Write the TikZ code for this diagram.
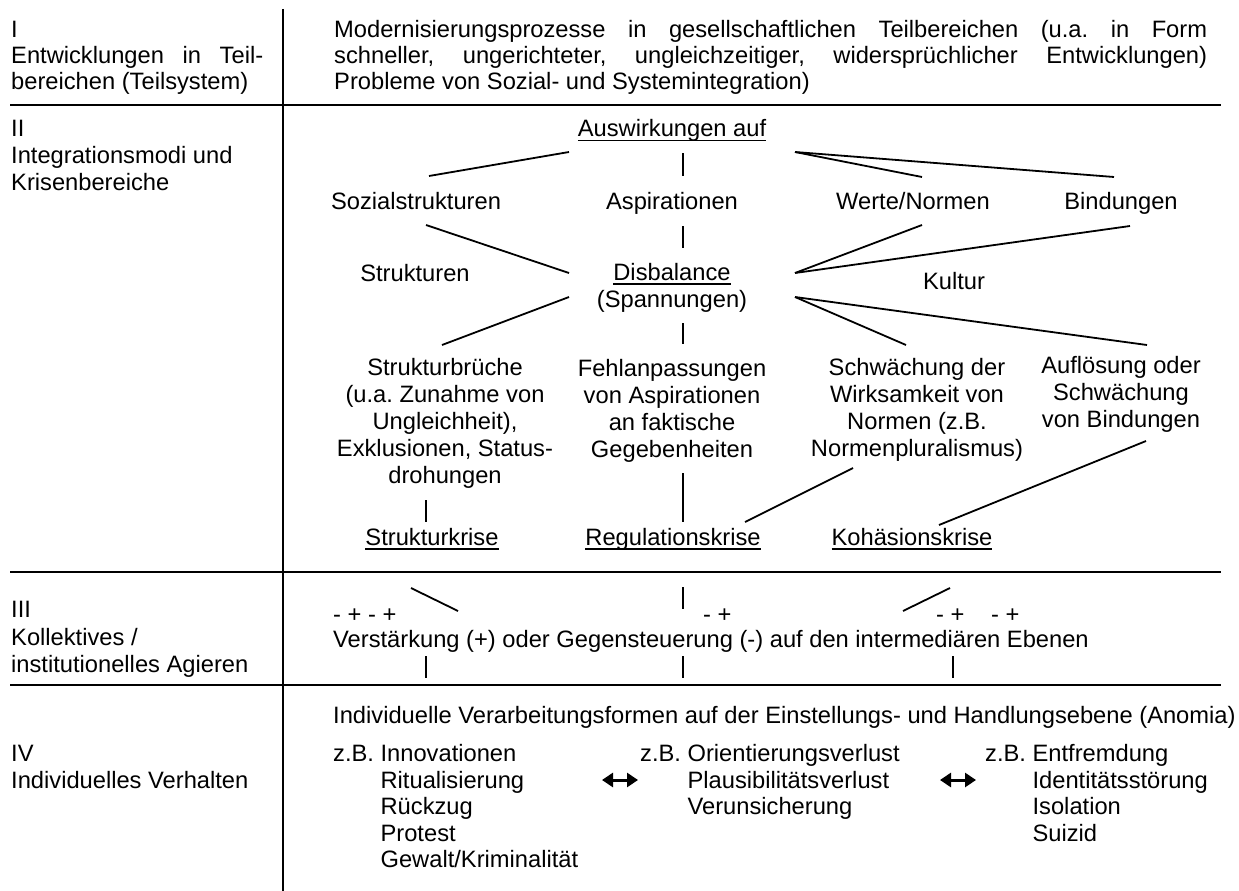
\documentclass[tikz,border=0pt]{standalone}
\usepackage{fontspec}
\setmainfont{Liberation Sans}
\usetikzlibrary{arrows.meta}
\newcommand{\undl}[1]{\setbox0\hbox{#1}\rlap{\rule[-4.5pt]{\wd0}{1.5pt}}\box0}
\frenchspacing

\begin{document}
\begin{tikzpicture}[
    x=1pt, y=-1pt,
    font=\fontsize{23.7}{27}\selectfont,
    txt/.style={inner sep=0pt, anchor=base west},
    ctr/.style={inner sep=0pt, anchor=base},
    blk/.style={inner sep=0pt, anchor=north, align=center},
    lst/.style={inner sep=0pt, anchor=north west, align=left, font=\fontsize{23.7}{26.5}\selectfont},
    rule/.style={line width=2.6pt},
    link/.style={line width=1.8pt},
    dbl/.style={{Triangle[length=11pt,width=14pt]}-{Triangle[length=11pt,width=14pt]}, line width=3pt}
]
\useasboundingbox (0,0) rectangle (1239,891);

% Table frame
\draw[rule] (283,9) -- (283,891);
\draw[rule] (10,105) -- (1221,105);
\draw[rule] (10,572) -- (1221,572);
\draw[rule] (10,685) -- (1221,685);

% Section I
\node[txt] (s1num) at (11,37.5) {I};
\node[txt] (s1a) at (11,63.5) {\makebox[252pt][s]{Entwicklungen in Teil-}};
\node[txt] (s1b) at (11,89.5) {bereichen (Teilsystem)};
\node[txt] (mod1) at (334,37.5) {\makebox[873pt][s]{Modernisierungsprozesse in gesellschaftlichen Teilbereichen (u.a. in Form}};
\node[txt] (mod2) at (334,63.5) {\makebox[873pt][s]{schneller, ungerichteter, ungleichzeitiger, widersprüchlicher Entwicklungen)}};
\node[txt] (mod3) at (334,89.5) {Probleme von Sozial- und Systemintegration)};

% Section II labels
\node[txt] (s2num) at (11,136.5) {II};
\node[txt] (s2a) at (11,163.5) {Integrationsmodi und};
\node[txt] (s2b) at (11,190.5) {Krisenbereiche};

% Section II tree
\node[ctr] (aus) at (672,136.5) {\undl{Auswirkungen auf}};
\node[ctr] (soz) at (416,209.5) {Sozialstrukturen};
\node[ctr] (asp) at (672,209.5) {Aspirationen};
\node[ctr] (wer) at (913,209.5) {Werte/Normen};
\node[ctr] (bin) at (1121,209.5) {Bindungen};
\node[ctr] (str) at (415,281.5) {Strukturen};
\node[ctr] (dis) at (672,280) {\undl{Disbalance}};
\node[ctr] (spa) at (672,307.5) {(Spannungen)};
\node[ctr] (kul) at (954,289.5) {Kultur};
\node[blk] (sbr) at (445,358.5) {Strukturbrüche\\(u.a. Zunahme von\\Ungleichheit),\\Exklusionen, Status-\\drohungen};
\node[blk] (feh) at (672,359.5) {Fehlanpassungen\\von Aspirationen\\an faktische\\Gegebenheiten};
\node[blk] (sch) at (917,358.5) {Schwächung der\\Wirksamkeit von\\Normen (z.B.\\Normenpluralismus)};
\node[blk] (auf) at (1121,356.5) {Auflösung oder\\Schwächung\\von Bindungen};
\node[ctr] (sk) at (432,545) {\undl{Strukturkrise}};
\node[ctr] (rk) at (673,545) {\undl{Regulationskrise}};
\node[ctr] (kh) at (912,545) {\undl{Kohäsionskrise}};

% Connector ends
\coordinate (ausSW) at (569,152);
\coordinate (ausS) at (683,153);
\coordinate (ausSE) at (795,152);
\coordinate (sozN) at (429,176);
\coordinate (aspN) at (683,176);
\coordinate (werN) at (922,177);
\coordinate (binN) at (1114,177);
\coordinate (sozS) at (426,225);
\coordinate (aspS) at (683,226);
\coordinate (werS) at (922,225);
\coordinate (binS) at (1130,226);
\coordinate (disNW) at (569,273);
\coordinate (disN) at (683,248);
\coordinate (disNE) at (795,273);
\coordinate (disSW) at (569,297);
\coordinate (disS) at (683,323);
\coordinate (disSE) at (795,297);
\coordinate (sbrN) at (442,345);
\coordinate (fehN) at (683,344);
\coordinate (schN) at (906,345);
\coordinate (aufN) at (1147,345);
\coordinate (sbrS) at (426,500);
\coordinate (fehS) at (683,473);
\coordinate (schS) at (853,468);
\coordinate (aufS) at (1146,441);
\coordinate (skN) at (426,522);
\coordinate (rkN) at (683,522);
\coordinate (rkNE) at (745,522);
\coordinate (khN) at (939,525);

% Section II connectors
\draw[link] (ausSW) -- (sozN);
\draw[link] (ausS) -- (aspN);
\draw[link] (ausSE) -- (werN);
\draw[link] (ausSE) -- (binN);
\draw[link] (sozS) -- (disNW);
\draw[link] (aspS) -- (disN);
\draw[link] (werS) -- (disNE);
\draw[link] (binS) -- (disNE);
\draw[link] (disSW) -- (sbrN);
\draw[link] (disS) -- (fehN);
\draw[link] (disSE) -- (schN);
\draw[link] (disSE) -- (aufN);
\draw[link] (sbrS) -- (skN);
\draw[link] (fehS) -- (rkN);
\draw[link] (schS) -- (rkNE);
\draw[link] (aufS) -- (khN);

% Section III
\node[txt] (s3num) at (11,617.5) {III};
\node[txt] (s3a) at (11,645.5) {Kollektives /};
\node[txt] (s3b) at (11,672.5) {institutionelles Agieren};
\node[txt] (pmL) at (333,622.5) {- + - +};
\node[txt] (pmM) at (703,622.5) {- +};
\node[txt] (pmR1) at (936,622.5) {- +};
\node[txt] (pmR2) at (991,622.5) {- +};
\node[txt] (ver) at (333,647.5) {Verstärkung (+) oder Gegensteuerung (-) auf den intermediären Ebenen};

\coordinate (skS) at (411,588);
\coordinate (rkS) at (683,587);
\coordinate (khS) at (950,588);
\coordinate (verNL) at (458,611);
\coordinate (verNM) at (683,609);
\coordinate (verNR) at (903,611);
\coordinate (verSL) at (426,656);
\coordinate (verSM) at (683,656);
\coordinate (verSR) at (953,656);
\coordinate (indL) at (426,678);
\coordinate (indM) at (683,678);
\coordinate (indR) at (953,678);

\draw[link] (skS) -- (verNL);
\draw[link] (rkS) -- (verNM);
\draw[link] (khS) -- (verNR);
\draw[link] (verSL) -- (indL);
\draw[link] (verSM) -- (indM);
\draw[link] (verSR) -- (indR);

% Section IV
\node[txt] (s4num) at (11,761.5) {IV};
\node[txt] (s4a) at (11,788.5) {Individuelles Verhalten};
\node[txt] (anom) at (333,723.5) {Individuelle Verarbeitungsformen auf der Einstellungs- und Handlungsebene (Anomia)};
\node[lst] (colA) at (333,744.5) {z.B. Innovationen\\\hphantom{z.B. }Ritualisierung\\\hphantom{z.B. }Rückzug\\\hphantom{z.B. }Protest\\\hphantom{z.B. }Gewalt/Kriminalität};
\node[lst] (colB) at (640,744.5) {z.B. Orientierungsverlust\\\hphantom{z.B. }Plausibilitätsverlust\\\hphantom{z.B. }Verunsicherung};
\node[lst] (colC) at (985,744.5) {z.B. Entfremdung\\\hphantom{z.B. }Identitätsstörung\\\hphantom{z.B. }Isolation\\\hphantom{z.B. }Suizid};

\coordinate (arAL) at (602,780);
\coordinate (arAR) at (638,780);
\coordinate (arBL) at (940,780);
\coordinate (arBR) at (976,780);
\draw[dbl] (arAL) -- (arAR);
\draw[dbl] (arBL) -- (arBR);

\end{tikzpicture}
\end{document}
